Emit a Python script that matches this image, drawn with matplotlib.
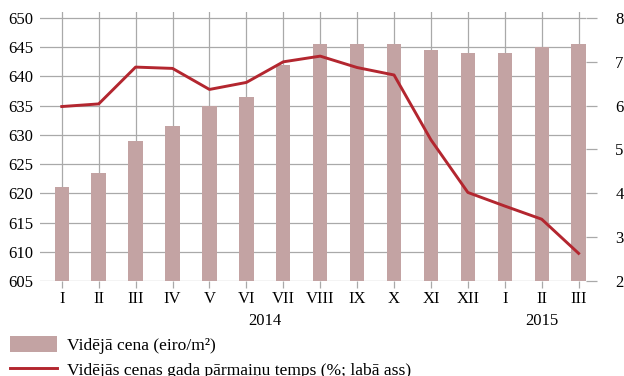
import matplotlib
matplotlib.use("Agg")
import matplotlib.pyplot as plt
import numpy as np

# Monthly average price and its annual rate of change
months = ["I", "II", "III", "IV", "V", "VI", "VII", "VIII", "IX", "X", "XI", "XII",
          "I", "II", "III"]
years = ["2014", "2015"]
price = [621.0, 623.5, 629.0, 631.5, 635.0, 636.5, 642.0, 645.5, 645.5, 645.5,
         644.5, 644.0, 644.0, 645.0, 645.5]
change = [5.98, 6.04, 6.88, 6.85, 6.37, 6.53, 7.0, 7.13, 6.87, 6.70, 5.22, 4.02,
          3.71, 3.41, 2.63]
left_ticks = [605, 610, 615, 620, 625, 630, 635, 640, 645, 650]
right_ticks = [2, 3, 4, 5, 6, 7, 8]

BAR = "#c3a3a3"
LINE = "#b3262f"
GRID = "#a9a9a9"
FS = 12.0
FS_LEG = 12.6

plt.rcParams["font.family"] = ["Liberation Serif", "DejaVu Serif"]
plt.rcParams["font.size"] = FS

fig = plt.figure(figsize=(6.24, 3.76), dpi=100)
W, H = 624, 376
ax = fig.add_axes([40 / W, (H - 281) / H, 546 / W, (281 - 12) / H])

x = np.arange(len(months))
bars = ax.bar(x, price, width=0.39, color=BAR, zorder=2,
              label="Vidējā cena (eiro/m²)")

top_left = 650 + 6 * 45 / 263
ax.set_ylim(605, top_left)
ax.set_xlim(-0.59, 14.2)
ax.set_yticks(left_ticks)
ax.set_xticks(x)
ax.set_xticklabels(months)
ax.set_axisbelow(True)
ax.grid(True, color=GRID, linewidth=0.9)
for s in ax.spines.values():
    s.set_visible(False)
ax.tick_params(axis="y", length=0, pad=5, labelsize=FS)
ax.tick_params(axis="x", length=5, width=0.9, color=GRID, pad=2.5, labelsize=FS)

# Year labels centred under each year's months
trans = matplotlib.transforms.blended_transform_factory(ax.transData, ax.transAxes)
ax.text(np.mean(x[:12]), -0.147, years[0], transform=trans, ha="center", va="center",
        fontsize=FS)
ax.text(np.mean(x[12:]), -0.147, years[1], transform=trans, ha="center", va="center",
        fontsize=FS)

ax2 = ax.twinx()
ax2.set_ylim(2, 2 + (top_left - 605) / 7.5)
ax2.set_yticks(right_ticks)
for s in ax2.spines.values():
    s.set_visible(False)
ax2.tick_params(axis="y", length=8, width=0.9, color=GRID, pad=13, labelsize=FS)
line, = ax2.plot(x, change, color=LINE, linewidth=2.1, zorder=3,
                 label="Vidējās cenas gada pārmaiņu temps (%; labā ass)")

fig.legend(handles=[bars, line], loc="upper left",
           bbox_to_anchor=(10 / W, 1 - 336 / H), frameon=False, borderpad=0,
           borderaxespad=0, handlelength=2.7, handleheight=1.0, handletextpad=0.55,
           labelspacing=0.42, fontsize=FS_LEG)

fig.savefig("out.png", dpi=100)
